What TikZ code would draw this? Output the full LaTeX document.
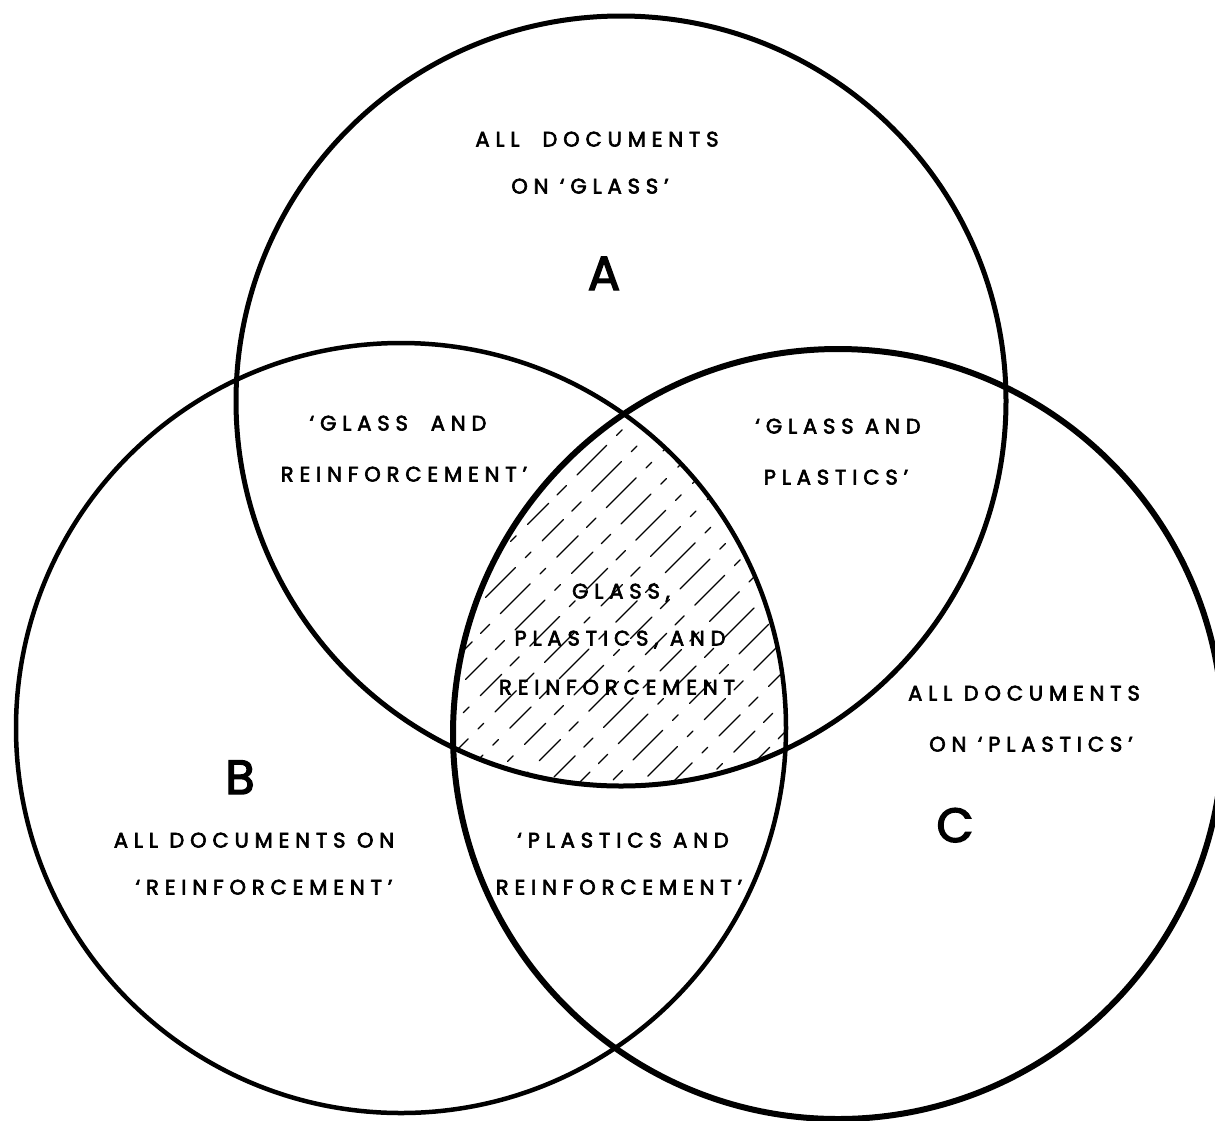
\documentclass[tikz,border=0pt]{standalone}
\usepackage{fontspec}
\setmainfont{Poppins}[LetterSpace=28,FakeBold=3]
\begin{document}
\begin{tikzpicture}[x=1pt,y=-1pt,
    ring/.style={line width=5pt},
    txt/.style={font=\fontsize{21}{24}\selectfont,inner sep=0pt,text height=15pt,text depth=0pt},
    big/.style={font=\fontsize{48}{50}\selectfont,inner sep=0pt,text height=34pt,text depth=0pt},
    hatch/.style={line width=1.3pt,line cap=round,
        dash pattern=on 30pt off 12pt on 13pt off 15pt on 42pt off 14pt on 8pt off 16pt}]
    \useasboundingbox (0,0) rectangle (1215,1120);

    \pgfmathsetmacro{\rad}{385}
    \coordinate (A) at (621,401);
    \coordinate (B) at (401,728);
    \coordinate (C) at (838,734);

    % Hatching of the common part
    \begin{scope}
        \clip (A) circle[radius=\rad];
        \clip (B) circle[radius=\rad];
        \clip (C) circle[radius=\rad];
        \foreach \s [count=\i] in {90,121,...,700}
            \draw[hatch,dash phase=\i*23pt] (\s,900) -- (\s+600,300);
    \end{scope}

    % Circles
    \draw[ring] (A) circle[radius=\rad];
    \draw[ring,line width=4.5pt] (B) circle[radius=\rad];
    \draw[ring,line width=6pt] (C) circle[radius=\rad];

    % Letters
    \node[big] (labA) at (604,273) {A};
    \node[big] (labB) at (240,777) {B};
    \node[big] (labC) at (955,825) {C};

    % Labels
    \node[txt] (allA1) at (597,139) {ALL\ \ DOCUMENTS};
    \node[txt] (allA2) at (590,186) {ON ‘GLASS’};
    \node[txt] (gr1) at (398,423) {‘GLASS\ \ AND};
    \node[txt] (gr2) at (404,474) {REINFORCEMENT’};
    \node[txt] (gp1) at (838,426) {‘GLASS AND};
    \node[txt] (gp2) at (836,477) {PLASTICS’};
    \node[txt] (gpr1) at (621,591) {GLASS,};
    \node[txt] (gpr2) at (620,638) {PLASTICS, AND};
    \node[txt] (gpr3) at (617,687) {REINFORCEMENT};
    \node[txt] (allC1) at (1024,693) {ALL DOCUMENTS};
    \node[txt] (allC2) at (1031,744) {ON ‘PLASTICS’};
    \node[txt] (allB1) at (254,840) {ALL DOCUMENTS ON};
    \node[txt] (allB2) at (264,887) {‘REINFORCEMENT’};
    \node[txt] (pr1) at (623,840) {‘PLASTICS AND};
    \node[txt] (pr2) at (619,887) {REINFORCEMENT’};
\end{tikzpicture}
\end{document}
